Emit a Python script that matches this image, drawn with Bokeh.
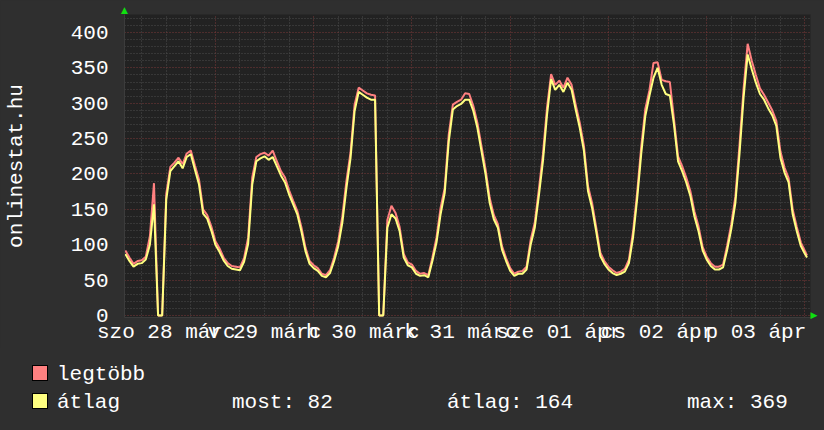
from bokeh.plotting import figure
from bokeh.layouts import column
from bokeh.models import Range1d, FixedTicker, LinearAxis, Div, GlobalInlineStyleSheet
from bokeh.embed import file_html
from bokeh.resources import INLINE

# ---------------- data (hours relative to 2015-03-29 00:00) ----------------
hours = list(range(-22, 145)) + [144.5]

atlag = [
    87, 77, 69, 73, 74, 79, 100, 157, 0, 0,            # -22 .. -13
    164, 204, 211, 218, 208, 224, 228, 206, 185, 144,  # -12 .. -3
    137, 120,                                           # -2, -1
    100, 90, 78, 70, 66, 65, 64, 76, 101, 185,          # 0 .. 9
    218, 222, 225, 220, 224, 211, 198, 188, 171, 157,   # 10 .. 19
    143, 119, 91, 73,                                   # 20 .. 23
    67, 63, 56, 54, 60, 77, 98, 131, 180, 222,          # 24 .. 33
    289, 316, 312, 308, 305, 305, 0, 0, 124, 143,       # 34 .. 43
    137, 119, 82, 71,                                   # 44 .. 47
    68, 59, 56, 57, 54, 77, 103, 143, 173, 246,         # 48 .. 57
    291, 296, 299, 305, 305, 289, 265, 232, 199, 159,   # 58 .. 67
    136, 124, 93, 77,                                   # 68 .. 71
    63, 56, 59, 59, 65, 100, 124, 169, 218, 284,        # 72 .. 81
    334, 319, 326, 316, 329, 319, 291, 265, 233, 176,   # 82 .. 91
    152, 119, 84, 73,                                   # 92 .. 95
    65, 60, 57, 59, 62, 74, 110, 164, 228, 282,         # 96 .. 105
    310, 336, 350, 326, 313, 311, 270, 218, 204, 188,   # 106 .. 115
    169, 140, 119, 92,                                  # 116 .. 119
    79, 70, 65, 65, 68, 93, 122, 159, 228, 308,         # 120 .. 129
    369, 348, 329, 313, 305, 293, 283, 268, 223, 202,   # 130 .. 139
    188, 143, 119, 98, 87, 82,                          # 140 .. 144, 144.5
]

legtobb = [
    92, 82, 73, 77, 78, 83, 112, 187, 0, 0,
    172, 210, 216, 223, 214, 229, 233, 212, 192, 150,
    142, 126,
    105, 95, 82, 74, 70, 69, 68, 81, 110, 195,
    224, 228, 230, 226, 233, 218, 204, 195, 177, 162,
    148, 125, 96, 77,
    71, 67, 59, 57, 64, 82, 105, 140, 190, 230,
    298, 322, 318, 314, 312, 311, 0, 0, 135, 155,
    145, 125, 87, 75,
    72, 63, 59, 60, 57, 82, 110, 152, 180, 256,
    298, 302, 305, 314, 313, 296, 272, 239, 206, 166,
    142, 129, 98, 81,
    67, 59, 62, 63, 69, 107, 131, 178, 228, 294,
    341, 326, 332, 322, 336, 326, 298, 272, 240, 183,
    159, 125, 89, 77,
    69, 64, 60, 62, 66, 79, 118, 173, 238, 292,
    318, 357, 358, 333, 331, 330, 278, 225, 211, 195,
    176, 147, 126, 97,
    83, 74, 69, 69, 72, 99, 129, 168, 240, 320,
    384, 360, 340, 321, 312, 301, 290, 275, 232, 209,
    194, 150, 125, 103, 91, 85,
]

day_ticks = [-12, 12, 36, 60, 84, 108, 132]
day_labels = ["szo 28 márc", "v 29 márc", "h 30 márc", "k 31 márc",
              "sze 01 ápr", "cs 02 ápr", "p 03 ápr"]
midnights = [0, 24, 48, 72, 96, 120, 144]
six_hours = [h for h in range(-18, 146, 6) if h % 24 != 0]
y_major = [0, 50, 100, 150, 200, 250, 300, 350, 400]
y_minor = [v for v in range(10, 430, 10) if v % 50 != 0]

series_names = ["legtöbb", "átlag"]
series_colors = ["#ff8080", "#ffff80"]
stat_texts = ["most: 82", "átlag: 164", "max: 369"]

FONT = "Liberation Mono"
FS = "21px"
BG = "#2f2f2f"
GREEN = "#10e010"

X0, X1 = -22.2, 145.35      # time window shown (hours)
Y0, Y1 = -2.83, 425.4       # value window shown

# ---------------- main chart ----------------
p = figure(width=824, height=348,
           x_range=Range1d(X0, X1), y_range=Range1d(Y0, Y1),
           output_backend="svg", toolbar_location=None,
           min_border_left=124, min_border_right=14,
           min_border_top=14, min_border_bottom=31,
           background_fill_color="#222222", border_fill_color=BG,
           outline_line_color=None)
p.stylesheets = [GlobalInlineStyleSheet(css="body { background-color: %s; }" % BG)]

# grids
p.xgrid.ticker = FixedTicker(ticks=midnights, minor_ticks=six_hours)
p.ygrid.ticker = FixedTicker(ticks=y_major, minor_ticks=y_minor)
for g in (p.xgrid, p.ygrid):
    g.grid_line_color = "#7a3838"
    g.grid_line_dash = "1 2"
    g.grid_line_width = 1
    g.minor_grid_line_color = "#4c4c4c"
    g.minor_grid_line_dash = "1 2"
    g.minor_grid_line_width = 1

# axes
p.xaxis.ticker = FixedTicker(ticks=day_ticks)
p.xaxis.major_label_overrides = {t: lab for t, lab in zip(day_ticks, day_labels)}
p.yaxis.ticker = FixedTicker(ticks=y_major)
for ax in (p.xaxis[0], p.yaxis[0]):
    ax.axis_line_color = "#3c3c3c"
    ax.major_tick_line_color = None
    ax.minor_tick_line_color = None
    ax.major_tick_out = 0
    ax.major_tick_in = 0
    ax.major_label_text_font = FONT
    ax.major_label_text_font_size = FS
    ax.major_label_text_color = "white"
p.xaxis.major_label_standoff = 3
p.yaxis.major_label_standoff = 16
p.yaxis.axis_label = "onlinestat.hu"
p.yaxis.axis_label_text_font = FONT
p.yaxis.axis_label_text_font_size = FS
p.yaxis.axis_label_text_font_style = "normal"
p.yaxis.axis_label_text_color = "white"
p.yaxis.axis_label_text_line_height = 1.0
p.yaxis.axis_label_standoff = 40

# green arrow heads at the ends of the axes (as tick labels of helper axes)
top_arrow = LinearAxis(ticker=FixedTicker(ticks=[X0]),
                       major_label_overrides={X0: "\u25B2"})
right_arrow = LinearAxis(ticker=FixedTicker(ticks=[0]),
                         major_label_overrides={0: "\u25B6"})
for ax in (top_arrow, right_arrow):
    ax.axis_line_color = None
    ax.major_tick_line_color = None
    ax.minor_tick_line_color = None
    ax.major_tick_out = 0
    ax.major_tick_in = 0
    ax.major_label_standoff = 0
    ax.major_label_text_font = "DejaVu Sans"
    ax.major_label_text_font_size = "9px"
    ax.major_label_text_color = GREEN
p.add_layout(top_arrow, "above")
p.add_layout(right_arrow, "right")

# series
p.line(hours, legtobb, line_color=series_colors[0], line_width=2)
p.line(hours, atlag, line_color=series_colors[1], line_width=2)

# ---------------- legend strip (HTML, positions in pixels) ----------------
def box(left, top, color):
    return ('<span style="position:absolute;box-sizing:border-box;left:%dpx;top:%dpx;'
            'width:16px;height:16px;background:%s;border:1px solid #000;"></span>'
            % (left, top, color))

def txt(left, top, s):
    return ('<span style="position:absolute;left:%dpx;top:%dpx;line-height:21px;'
            'white-space:pre;">%s</span>' % (left, top, s))

rows_top = [17, 45]          # swatch tops inside the strip
text_top = [16, 44]          # text line tops inside the strip
parts = []
for i, (name, col) in enumerate(zip(series_names, series_colors)):
    parts.append(box(32, rows_top[i], col))
    parts.append(txt(57, text_top[i], name))
for s, x in zip(stat_texts, [232, 447, 687]):
    parts.append(txt(x, text_top[1], s))

html = ('<div style="position:relative;width:824px;height:82px;background:%s;'
        'color:#ffffff;font-family:\'Liberation Mono\';font-size:21px;">%s</div>'
        % (BG, "".join(parts)))
legend_strip = Div(text=html, width=824, height=82,
                   styles={"margin": "0", "padding": "0", "background-color": BG})

layout = column(p, legend_strip, spacing=0)
open("out.html", "w").write(file_html(layout, INLINE))
